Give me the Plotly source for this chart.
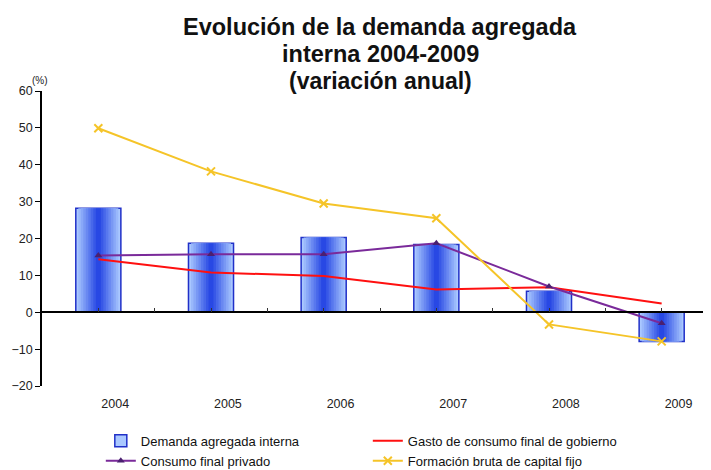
import plotly.graph_objects as go

# datos (variacion anual, %)
years = ["2004", "2005", "2006", "2007", "2008", "2009"]
demanda_interna = [28.2, 18.7, 20.3, 18.4, 5.7, -7.9]
gasto_gobierno = [14.4, 10.8, 9.8, 6.2, 6.8, 2.4]
consumo_privado = [15.4, 15.7, 15.7, 18.7, 7.0, -3.0]
formacion_capital = [49.9, 38.2, 29.5, 25.5, -3.3, -7.9]

title_lines = ["Evolución de la demanda agregada", "interna 2004-2009", "(variación anual)"]

y_min, y_max = -20, 60
pos = list(range(len(years)))  # posicion de cada categoria en el eje
font = "Liberation Sans, Arial, sans-serif"

fig = go.Figure()

# barras con degradado: capas superpuestas cada vez mas estrechas y oscuras
light = (170, 200, 255)
dark = (40, 72, 228)
n_layers = 9
for i in range(n_layers):
    t = i / (n_layers - 1)
    col = "rgb(%d,%d,%d)" % tuple(int(light[k] + (dark[k] - light[k]) * t) for k in range(3))
    w = 0.4 * (1 - i / n_layers)
    fig.add_trace(go.Bar(
        x=pos, y=demanda_interna, width=w,
        name="Demanda agregada interna",
        marker=dict(color=col,
                    line=dict(color="#2030c8", width=1.5) if i == 0 else dict(width=0)),
        showlegend=(i == 0), hoverinfo="skip" if i else None,
    ))

fig.add_trace(go.Scatter(
    x=pos, y=gasto_gobierno, name="Gasto de consumo final de gobierno",
    mode="lines", line=dict(color="#ff1010", width=2),
))
fig.add_trace(go.Scatter(
    x=pos, y=consumo_privado, name="Consumo final privado",
    mode="lines+markers", line=dict(color="#7a2a9a", width=2),
    marker=dict(symbol="triangle-up", size=7, color="#4a2070"),
))
fig.add_trace(go.Scatter(
    x=pos, y=formacion_capital, name="Formación bruta de capital fijo",
    mode="lines+markers", line=dict(color="#f5c428", width=2),
    marker=dict(symbol="x-thin", size=8, line=dict(color="#f5c428", width=2)),
))

# eje auxiliar solo para las etiquetas de abajo (algo desplazadas, como en el original)
fig.add_trace(go.Scatter(x=pos, y=demanda_interna, xaxis="x2", mode="markers",
                         marker=dict(opacity=0), showlegend=False, hoverinfo="skip"))

label_shift = 0.15
fig.update_layout(
    width=711, height=470,
    paper_bgcolor="white", plot_bgcolor="white",
    barmode="overlay",
    margin=dict(l=34, r=1, t=83, b=92),
    font=dict(family=font, size=12, color="#222"),
    xaxis=dict(
        range=[-0.5, len(years) - 0.5],
        anchor="free", position=(0 - y_min) / (y_max - y_min),
        showline=True, linecolor="black", linewidth=1.5,
        tickmode="linear", tick0=-0.5, dtick=0.5,
        ticks="inside", ticklen=4, tickcolor="#333",
        showticklabels=False, showgrid=False, zeroline=False,
    ),
    xaxis2=dict(
        overlaying="x", anchor="y", side="bottom",
        range=[-0.5 - label_shift, len(years) - 0.5 - label_shift],
        tickmode="array", tickvals=pos, ticktext=years,
        showline=False, showgrid=False, zeroline=False,
        ticks="outside", ticklen=6, tickcolor="rgba(0,0,0,0)",
        tickfont=dict(size=12.5, color="#222"),
    ),
    yaxis=dict(
        range=[y_min, y_max], dtick=10,
        showline=True, linecolor="black", linewidth=1.5,
        ticks="outside", ticklen=5, tickcolor="black",
        showgrid=False, zeroline=False,
        tickfont=dict(size=12.5, color="#222"),
    ),
    legend=dict(
        orientation="h", x=0.087, xanchor="left",
        yref="container", y=0.111, yanchor="top",
        entrywidth=222, entrywidthmode="pixels",
        font=dict(size=13, color="#111"),
        traceorder="normal", itemwidth=30, tracegroupgap=0,
    ),
)

title_y = [1.217, 1.125, 1.034]
title_size = [23.5, 23.5, 23]
for txt, ty, ts in zip(title_lines, title_y, title_size):
    fig.add_annotation(text="<b>%s</b>" % txt, xref="paper", yref="paper",
                       x=0.5, y=ty, xanchor="center", yanchor="middle",
                       showarrow=False, font=dict(family=font, size=ts, color="#111"))

fig.add_annotation(text="(%)", xref="paper", yref="paper", x=-0.018, y=1.061,
                   showarrow=False, font=dict(size=10, color="#222"))

fig.write_html("out.html")
